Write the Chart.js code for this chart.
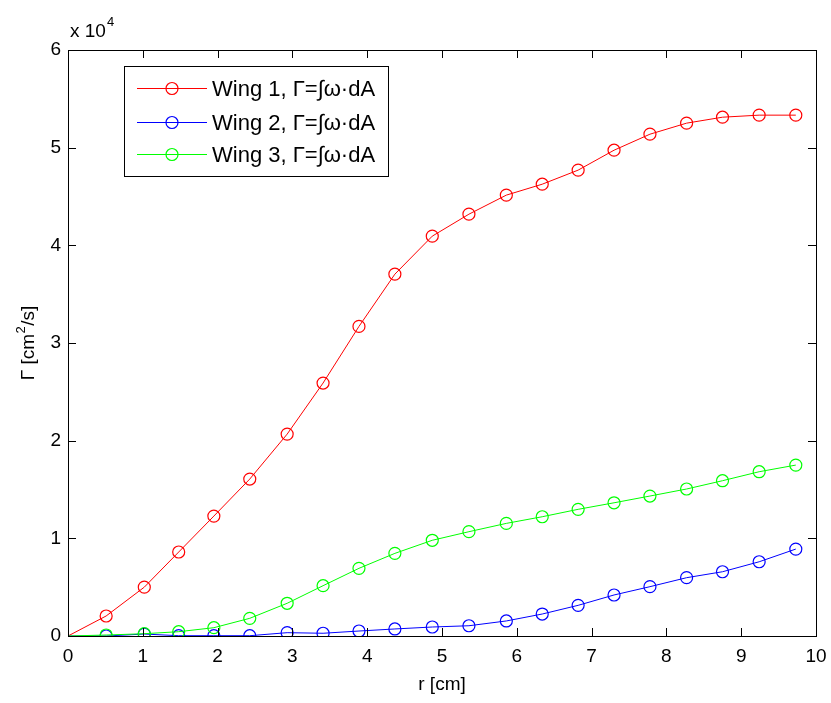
<!DOCTYPE html>
<html>
<head>
<meta charset="utf-8">
<script src="https://cdn.jsdelivr.net/npm/chart.js@4"></script>
<style>
html,body{margin:0;padding:0;background:#fff;}
#wrap{width:831px;height:703px;position:relative;}
</style>
</head>
<body>
<div id="wrap"><canvas id="c" width="831" height="703"></canvas></div>
<script>
// ---- data ----
const rValues = [0, 0.51, 1.02, 1.48, 1.95, 2.43, 2.93, 3.41, 3.89, 4.37, 4.87, 5.36, 5.86, 6.34, 6.82, 7.30, 7.78, 8.27, 8.75, 9.24, 9.73];
const wing1 = [0, 2050, 5000, 8600, 12280, 16070, 20670, 25900, 31700, 37050, 40940, 43190, 45140, 46260, 47700, 49740, 51380, 52510, 53120, 53330, 53330];
const wing2 = [0, 0, 200, 30, 30, 30, 340, 280, 510, 720, 920, 1050, 1540, 2250, 3140, 4200, 5050, 5970, 6580, 7600, 8900];
const wing3 = [0, 100, 235, 440, 850, 1810, 3350, 5150, 6930, 8460, 9800, 10680, 11530, 12210, 12970, 13640, 14330, 15050, 15900, 16820, 17500];
const seriesLabels = ["Wing 1, \u0393=\u222B\u03C9\u00B7dA", "Wing 2, \u0393=\u222B\u03C9\u00B7dA", "Wing 3, \u0393=\u222B\u03C9\u00B7dA"];
const seriesColors = ["#ff0000", "#0000ff", "#00ff00"];
const xTicks = [0,1,2,3,4,5,6,7,8,9,10];
const yTicks = [0,10000,20000,30000,40000,50000,60000];
const xTitle = "r [cm]";
const yTitleMain = "\u0393 [cm";
const yTitleSup = "2";
const yTitleEnd = "/s]";
const yExponent = "4";

const FONT = "'Liberation Sans', Arial, Helvetica, sans-serif";

function mk(vals){ return rValues.map((x,i)=>({x:x, y:vals[i]})); }
const allSeries = [wing1, wing2, wing3];
const datasets = allSeries.map((s,i)=>({
  label: seriesLabels[i],
  data: mk(s),
  showLine: true,
  borderColor: seriesColors[i],
  backgroundColor: 'rgba(0,0,0,0)',
  borderWidth: 1,
  pointRadius: s.map((v,j)=> j===0 ? 0 : 6),
  pointBorderWidth: 1.2,
  pointBorderColor: seriesColors[i],
  pointBackgroundColor: 'rgba(0,0,0,0)',
  pointStyle: 'circle',
  tension: 0,
  order: 2 - i
}));

const decor = {
  id: 'decor',
  afterDatasetsDraw(chart){
    const ctx = chart.ctx;
    const a = chart.chartArea;
    const xs = chart.scales.x, ys = chart.scales.y;
    ctx.save();
    ctx.strokeStyle = '#000';
    ctx.lineWidth = 1;
    // frame
    ctx.strokeRect(Math.round(a.left)+0.5, Math.round(a.top)+0.5, Math.round(a.right-a.left), Math.round(a.bottom-a.top));
    // inward ticks
    const TL = 8;
    ctx.beginPath();
    xTicks.forEach(v=>{
      const px = Math.round(xs.getPixelForValue(v))+0.5;
      ctx.moveTo(px, a.bottom); ctx.lineTo(px, a.bottom-TL);
      ctx.moveTo(px, a.top); ctx.lineTo(px, a.top+TL);
    });
    yTicks.forEach(v=>{
      const py = Math.round(ys.getPixelForValue(v))+0.5;
      ctx.moveTo(a.left, py); ctx.lineTo(a.left+TL, py);
      ctx.moveTo(a.right, py); ctx.lineTo(a.right-TL, py);
    });
    ctx.stroke();

    // exponent label
    ctx.fillStyle = '#000';
    ctx.textBaseline = 'alphabetic';
    ctx.textAlign = 'left';
    ctx.font = '19px ' + FONT;
    ctx.fillText('x 10', a.left + 2, a.top - 13);
    const w = ctx.measureText('x 10').width;
    ctx.font = '13px ' + FONT;
    ctx.fillText(yExponent, a.left + 2 + w + 1, a.top - 24);

    // x title
    ctx.font = '19px ' + FONT;
    ctx.textAlign = 'center';
    ctx.textBaseline = 'middle';
    ctx.fillText(xTitle, (a.left + a.right)/2, 685);

    // y title with superscript
    ctx.save();
    ctx.translate(34, (a.top + a.bottom)/2);
    ctx.rotate(-Math.PI/2);
    ctx.textAlign = 'left';
    ctx.textBaseline = 'alphabetic';
    ctx.font = '19px ' + FONT;
    const w1 = ctx.measureText(yTitleMain).width;
    const w3 = ctx.measureText(yTitleEnd).width;
    ctx.font = '13px ' + FONT;
    const w2 = ctx.measureText(yTitleSup).width;
    const total = w1 + w2 + w3 + 1;
    let xx = -total/2;
    ctx.font = '19px ' + FONT;
    ctx.fillText(yTitleMain, xx, 0);
    xx += w1 + 0.5;
    ctx.font = '13px ' + FONT;
    ctx.fillText(yTitleSup, xx, -9);
    xx += w2 + 0.5;
    ctx.font = '19px ' + FONT;
    ctx.fillText(yTitleEnd, xx, 0);
    ctx.restore();

    // legend
    const lx = 124.5, ly = 66.5, lw = 264, lh = 110;
    ctx.fillStyle = '#fff';
    ctx.fillRect(lx, ly, lw, lh);
    ctx.strokeStyle = '#000';
    ctx.strokeRect(lx, ly, lw, lh);
    const rows = [88, 122, 154];
    chart.data.datasets.forEach((ds,i)=>{
      const y = rows[i] + 0.5;
      ctx.strokeStyle = ds.borderColor;
      ctx.lineWidth = 1.2;
      ctx.beginPath();
      ctx.moveTo(137, y); ctx.lineTo(207, y);
      ctx.stroke();
      ctx.beginPath();
      ctx.arc(172, y, 6, 0, Math.PI*2);
      ctx.stroke();
      ctx.fillStyle = '#000';
      ctx.font = '22px ' + FONT;
      ctx.textAlign = 'left';
      ctx.textBaseline = 'middle';
      ctx.fillText(ds.label, 212, y + 1);
    });
    ctx.restore();
  }
};

new Chart(document.getElementById('c'), {
  type: 'scatter',
  data: { datasets },
  options: {
    responsive: false,
    animation: false,
    events: [],
    layout: { padding: { top: 50, right: 15, left: 0, bottom: 0 } },
    plugins: { legend: { display: false }, tooltip: { enabled: false }, title: { display: false } },
    scales: {
      x: {
        type: 'linear', min: 0, max: 10,
        afterBuildTicks: s => { s.ticks = xTicks.map(v=>({value:v})); },
        afterFit: s => { s.height = 67; s.paddingLeft = 0; s.paddingRight = 0; },
        grid: { display: false, drawTicks: false },
        border: { display: false },
        ticks: { color: '#000', font: { size: 19, family: FONT }, padding: 9, maxRotation: 0, autoSkip: false }
      },
      y: {
        type: 'linear', min: 0, max: 60000,
        afterBuildTicks: s => { s.ticks = yTicks.map(v=>({value:v})); },
        afterFit: s => { s.width = 68; s.paddingTop = 0; s.paddingBottom = 0; },
        grid: { display: false, drawTicks: false },
        border: { display: false },
        ticks: { color: '#000', font: { size: 19, family: FONT }, padding: 7, autoSkip: false,
                 callback: v => String(v / 10000) }
      }
    }
  },
  plugins: [decor]
});
</script>
</body>
</html>
